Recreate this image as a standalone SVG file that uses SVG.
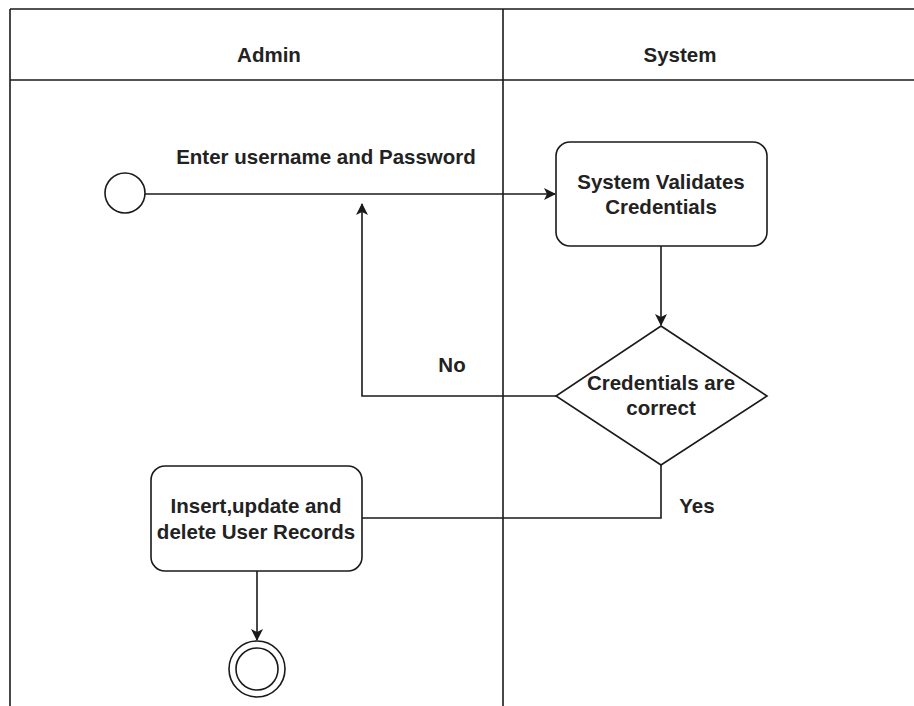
<svg xmlns="http://www.w3.org/2000/svg" width="914" height="706" viewBox="0 0 914 706">
  <style>
    .frame { fill: none; stroke: #1a1a1a; stroke-width: 1.6; }
    .shape { fill: #ffffff; stroke: #1a1a1a; stroke-width: 1.6; }
    .edge { fill: none; stroke: #1a1a1a; stroke-width: 1.6; }
    .lbl { font-family: "Liberation Sans", Arial, sans-serif; font-weight: bold; fill: #222222; text-anchor: middle; }
    .head { font-size: 20.5px; }
    .txt { font-size: 20.5px; }
  </style>
  <defs>
    <marker id="arrow" viewBox="0 0 12 12" refX="11" refY="6" markerWidth="12" markerHeight="12" markerUnits="userSpaceOnUse" orient="auto">
      <path d="M0,0 L12,6 L0,12 L3,6 z" fill="#1a1a1a"/>
    </marker>
  </defs>
  <rect width="914" height="706" fill="#ffffff"/>

  <!-- swimlane frame -->
  <g id="lanes">
    <line class="frame" x1="10" y1="9" x2="914" y2="9"/>
    <line class="frame" x1="10" y1="80" x2="914" y2="80"/>
    <line class="frame" x1="10" y1="9" x2="10" y2="706"/>
    <line class="frame" x1="503" y1="9" x2="503" y2="706"/>
    <text class="lbl head" x="269" y="62">Admin</text>
    <text class="lbl head" x="680" y="62">System</text>
  </g>

  <!-- connectors -->
  <g id="connectors">
    <line class="edge" x1="145" y1="194" x2="555" y2="194" marker-end="url(#arrow)"/>
    <text class="lbl txt" x="326" y="164">Enter username and Password</text>
    <line class="edge" x1="661" y1="246" x2="661" y2="325" marker-end="url(#arrow)"/>
    <polyline class="edge" points="556,396 362,396 362,204" marker-end="url(#arrow)"/>
    <text class="lbl txt" x="452" y="372">No</text>
    <polyline class="edge" points="661,465 661,518 362,518"/>
    <text class="lbl txt" x="697" y="513">Yes</text>
    <line class="edge" x1="257" y1="571" x2="257" y2="640" marker-end="url(#arrow)"/>
  </g>

  <g id="start">
    <circle class="shape" cx="125" cy="193" r="20"/>
  </g>

  <g id="validate">
    <rect class="shape" x="556" y="142" width="211" height="104" rx="14"/>
    <text class="lbl txt" x="661" y="189">System Validates</text>
    <text class="lbl txt" x="661" y="214">Credentials</text>
  </g>

  <g id="decision">
    <polygon class="shape" points="661,326 767,396 661,465 556,396"/>
    <text class="lbl txt" x="661" y="390">Credentials are</text>
    <text class="lbl txt" x="661" y="415">correct</text>
  </g>

  <g id="manage">
    <rect class="shape" x="151" y="466" width="211" height="105" rx="14"/>
    <text class="lbl txt" x="256" y="513">Insert,update and</text>
    <text class="lbl txt" x="256" y="539">delete User Records</text>
  </g>

  <g id="end">
    <circle class="shape" cx="257" cy="669" r="28"/>
    <circle class="shape" cx="257" cy="669" r="21"/>
  </g>
</svg>
